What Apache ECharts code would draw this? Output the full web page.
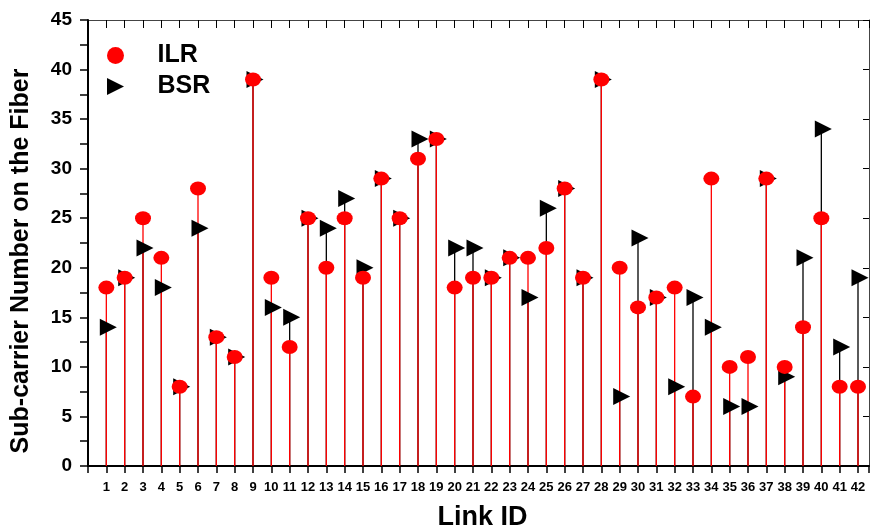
<!DOCTYPE html>
<html><head><meta charset="utf-8">
<script src="https://cdn.jsdelivr.net/npm/echarts@6/dist/echarts.min.js"></script>
<style>html,body{margin:0;padding:0;background:#fff}#c{width:871px;height:530px}</style>
</head><body><div id="c"></div>
<script>
const linkIds = [1,2,3,4,5,6,7,8,9,10,11,12,13,14,15,16,17,18,19,20,21,22,23,24,25,26,27,28,29,30,31,32,33,34,35,36,37,38,39,40,41,42];
const ilr = [18,19,25,21,8,28,13,11,39,19,12,25,20,25,19,29,25,31,33,18,19,19,21,21,22,28,19,39,20,16,17,18,7,29,10,11,29,10,14,25,8,8];
const bsr = [14,19,22,18,8,24,13,11,39,16,15,25,24,27,20,29,25,33,33,22,22,19,21,17,26,28,19,39,7,23,17,8,17,14,6,6,29,9,21,34,12,19];
const yTicks = [0,5,10,15,20,25,30,35,40,45];

const font = 'Liberation Sans, Arial, sans-serif';
const ilrPts = linkIds.map((x,i)=>[x, ilr[i]]);
const bsrPts = linkIds.map((x,i)=>[x, bsr[i]]);

const chart = echarts.init(document.getElementById('c'));
chart.setOption({
  animation: false,
  backgroundColor: '#fff',
  grid: {left: 88, right: 2, top: 20, bottom: 64, containLabel: false, outerBoundsMode: 'none'},
  legend: {
    orient: 'vertical', left: 107, top: 43, itemGap: 6,
    itemWidth: 18, itemHeight: 17, padding: 0,
    data: [
      {name: 'ILR', icon: 'circle'},
      {name: 'BSR', icon: 'path://M0,0L17,8.5L0,17Z'}
    ],
    textStyle: {fontFamily: font, fontSize: 25, lineHeight: 25, fontWeight: 'bold', color: '#000', padding: [0,0,0,28]}
  },
  xAxis: [{
    type: 'value', min: 0, max: 42.6, interval: 1,
    name: 'Link ID', nameLocation: 'middle', nameGap: 38,
    nameTextStyle: {fontFamily: font, fontSize: 27, fontWeight: 'bold', color: '#000', padding: [0,0,0,8]},
    axisLine: {show: true, onZero: false, lineStyle: {color: '#000', width: 2}},
    axisTick: {show: true, inside: false, length: 7, lineStyle: {color: '#000', width: 1.5}},
    axisLabel: {margin: 15, fontFamily: font, fontSize: 13, fontWeight: 'bold', color: '#000',
      formatter: v => (Number.isInteger(v) && v >= 1 && v <= 42) ? String(v) : ''},
    splitLine: {show: false}
  },{
    type: 'value', position: 'top', min: 0, max: 42.6, interval: 1,
    axisLine: {show: true, onZero: false, lineStyle: {color: '#444', width: 1}},
    axisTick: {show: true, inside: true, length: 8, lineStyle: {color: '#000', width: 1}},
    axisLabel: {show: false}, splitLine: {show: false}
  }],
  yAxis: [{
    type: 'value', min: 0, max: 45, interval: 5,
    name: 'Sub-carrier Number on the Fiber', nameLocation: 'middle', nameGap: 54,
    nameTextStyle: {fontFamily: font, fontSize: 25, fontWeight: 'bold', color: '#000', padding: [0,36,0,0]},
    axisLine: {show: true, onZero: false, lineStyle: {color: '#000', width: 2}},
    axisTick: {show: true, inside: false, length: 8, lineStyle: {color: '#000', width: 1.5}},
    minorTick: {show: true, splitNumber: 2, length: 8, lineStyle: {color: '#000', width: 1.5}},
    axisLabel: {margin: 16, fontFamily: font, fontSize: 19, fontWeight: 'bold', color: '#000',
      formatter: v => yTicks.includes(v) ? String(v) : ''},
    splitLine: {show: false}
  },{
    type: 'value', position: 'right', min: 0, max: 45, interval: 5,
    axisLine: {show: true, onZero: false, lineStyle: {color: '#444', width: 1}},
    axisTick: {show: true, inside: true, length: 6, lineStyle: {color: '#000', width: 1}},
    axisLabel: {show: false}, splitLine: {show: false}
  }],
  series: [
    {type: 'bar', name: 'bsrStem', data: bsrPts, barWidth: 1.3, barGap: '-100%',
     itemStyle: {color: '#000'}, silent: true, z: 2},
    {type: 'bar', name: 'ilrStem', data: ilrPts, barWidth: 1.3, barGap: '-100%',
     itemStyle: {color: '#ff0000'}, silent: true, z: 3},
    {type: 'scatter', name: 'BSR', data: bsrPts, symbol: 'triangle', symbolRotate: -90,
     symbolSize: [17,17], symbolOffset: [2,0], itemStyle: {color: '#000', opacity: 1}, z: 4},
    {type: 'scatter', name: 'ILR', data: ilrPts, symbol: 'circle',
     symbolSize: [16,14], itemStyle: {color: '#ff0000', opacity: 1}, z: 5}
  ]
});
</script></body></html>
